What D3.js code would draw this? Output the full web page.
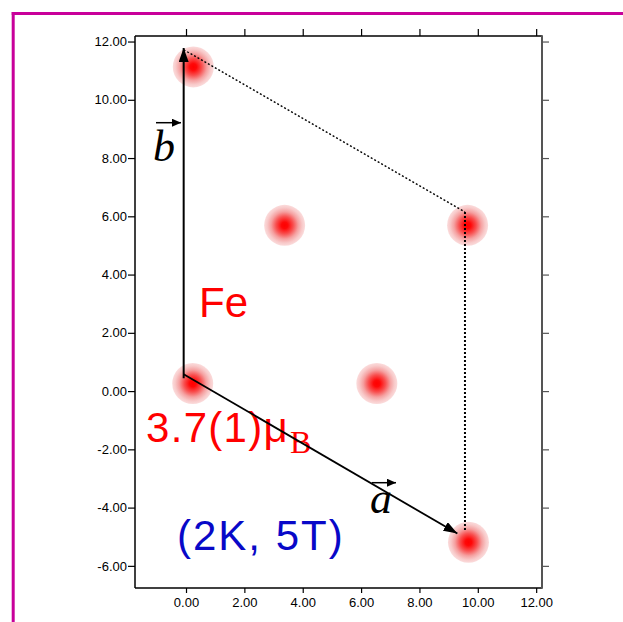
<!DOCTYPE html>
<html><head><meta charset="utf-8">
<script src="https://cdn.jsdelivr.net/npm/d3@7"></script>
<style>body{margin:0;background:#fff}svg{display:block}</style>
</head><body>
<script>
// ---- data ----
const xTicks = [0, 2, 4, 6, 8, 10, 12];
const yTicks = [-6, -4, -2, 0, 2, 4, 6, 8, 10, 12];
const atomX = [0.25, 3.38, 9.65, 0.23, 6.54, 9.68];
const atomY = [11.13, 5.69, 5.69, 0.26, 0.26, -5.19];
const origin = [-0.08, 0.58];
const aTip = [9.30, -4.89];
const bTip = [-0.08, 11.78];
const cellDiagX = [-0.08, 9.56];
const cellDiagY = [11.72, 6.15];
const cellVertX = [9.56, 9.56];
const cellVertY = [6.15, -4.77];
const labelFe = "Fe";
const labelMoment = "3.7(1)μ";
const labelMomentSub = "B";
const labelCond = "(2K, 5T)";

const W = 623, H = 622;
const svg = d3.select("body").append("svg").attr("width", W).attr("height", H);

// magenta border
svg.append("line").attr("x1", 11.7).attr("x2", 623).attr("y1", 13.5).attr("y2", 13.5)
  .attr("stroke", "#c8009a").attr("stroke-width", 3);
svg.append("line").attr("x1", 13.2).attr("x2", 13.2).attr("y1", 12).attr("y2", 622)
  .attr("stroke", "#c8009a").attr("stroke-width", 3);

const L = 135, R = 542, T = 36, B = 588;
const x = d3.scaleLinear().domain([-1.748, 12.2]).range([L, R]);
const y = d3.scaleLinear().domain([-6.76, 12.19]).range([B, T]);

const defs = svg.append("defs");
const grad = defs.append("radialGradient").attr("id", "blob");
[[0, "#ff0000"], [0.16, "#ff0808"], [0.42, "#f85050"], [0.66, "#f5a0a0"], [0.86, "#f8caca"], [1, "#fbdcdc"]]
  .forEach(s => grad.append("stop").attr("offset", s[0]).attr("stop-color", s[1]));

function marker(id, len, wid) {
  defs.append("marker").attr("id", id).attr("viewBox", `0 0 ${len} ${wid}`)
    .attr("refX", len).attr("refY", wid / 2).attr("markerWidth", len).attr("markerHeight", wid)
    .attr("markerUnits", "userSpaceOnUse").attr("orient", "auto")
    .append("path").attr("d", `M0,0L${len},${wid / 2}L0,${wid}Z`).attr("fill", "#000");
}
marker("arr", 14, 10);
marker("arrS", 9, 8);

// atoms
svg.append("g").selectAll("circle").data(atomX).join("circle")
  .attr("cx", (d, i) => x(d)).attr("cy", (d, i) => y(atomY[i])).attr("r", 20.5)
  .attr("fill", "url(#blob)");

// axes
const f2 = d3.format(".2f");
const fmt = v => f2(v).replace("\u2212", "-");
const gl = svg.append("g").attr("transform", `translate(${L},0)`)
  .call(d3.axisLeft(y).tickValues(yTicks).tickFormat(fmt).tickSize(7).tickPadding(1));
const gb = svg.append("g").attr("transform", `translate(0,${B})`)
  .call(d3.axisBottom(x).tickValues(xTicks).tickFormat(fmt).tickSize(5).tickPadding(5));
const gt = svg.append("g").attr("transform", `translate(0,${T})`)
  .call(d3.axisTop(x).tickValues(xTicks).tickFormat("").tickSize(7));
const gr = svg.append("g").attr("transform", `translate(${R},0)`)
  .call(d3.axisRight(y).tickValues(yTicks).tickFormat("").tickSize(7));
[gl, gb, gt, gr].forEach(g => {
  g.select(".domain").remove();
  g.selectAll("text").attr("font-family", "Liberation Sans, Arial, sans-serif").attr("font-size", 13).attr("fill", "#000");
  g.selectAll("line").attr("stroke", "#000").attr("stroke-width", 1.2);
});
gr.selectAll("line").attr("stroke", "#555");
// frame
svg.append("line").attr("x1", L).attr("x2", R).attr("y1", T).attr("y2", T).attr("stroke", "#000").attr("stroke-width", 1.5);
svg.append("line").attr("x1", L).attr("x2", R).attr("y1", B).attr("y2", B).attr("stroke", "#000").attr("stroke-width", 1.5);
svg.append("line").attr("x1", L).attr("x2", L).attr("y1", T).attr("y2", B).attr("stroke", "#000").attr("stroke-width", 1.5);
svg.append("line").attr("x1", R).attr("x2", R).attr("y1", T - 0.75).attr("y2", B + 0.75).attr("stroke", "#555").attr("stroke-width", 2);

// cell dotted lines
svg.append("line").attr("x1", x(cellDiagX[0])).attr("y1", y(cellDiagY[0]))
  .attr("x2", x(cellDiagX[1])).attr("y2", y(cellDiagY[1]))
  .attr("stroke", "#000").attr("stroke-width", 1.3).attr("stroke-dasharray", "2,2");
svg.append("line").attr("x1", x(cellVertX[0])).attr("y1", y(cellVertY[0]))
  .attr("x2", x(cellVertX[1])).attr("y2", y(cellVertY[1]))
  .attr("stroke", "#000").attr("stroke-width", 2).attr("stroke-dasharray", "2,2");

// text labels
const sans = "Liberation Sans, Arial, sans-serif";
const serif = "Liberation Serif, Times New Roman, serif";
svg.append("text").attr("x", 199).attr("y", 317).attr("font-family", sans).attr("font-size", 42)
  .attr("fill", "#ff0000").text(labelFe);
const mt = svg.append("text").attr("x", 146).attr("y", 442).attr("font-family", sans).attr("font-size", 42)
  .attr("fill", "#ff0000");
mt.append("tspan").attr("letter-spacing", 1.3).text(labelMoment);
mt.append("tspan").attr("font-family", serif).attr("font-size", 32).attr("dy", 11).attr("dx", 1).text(labelMomentSub);
svg.append("text").attr("x", 177).attr("y", 550).attr("font-family", sans).attr("font-size", 42)
  .attr("letter-spacing", 2).attr("fill", "#0808c8").text(labelCond);

// vector labels
svg.append("text").attr("x", 153).attr("y", 161).attr("font-family", serif).attr("font-style", "italic")
  .attr("font-size", 44).attr("fill", "#000").text("b");
svg.append("line").attr("x1", 156).attr("x2", 181).attr("y1", 122.7).attr("y2", 122.7)
  .attr("stroke", "#000").attr("stroke-width", 1.5).attr("marker-end", "url(#arrS)");
svg.append("text").attr("x", 370).attr("y", 513).attr("font-family", serif).attr("font-style", "italic")
  .attr("font-size", 44).attr("fill", "#000").text("a");
svg.append("line").attr("x1", 371.7).attr("x2", 396).attr("y1", 482.7).attr("y2", 482.7)
  .attr("stroke", "#000").attr("stroke-width", 1.5).attr("marker-end", "url(#arrS)");

// lattice vectors
svg.append("line").attr("x1", x(origin[0])).attr("y1", y(origin[1]) + 4)
  .attr("x2", x(bTip[0])).attr("y2", y(bTip[1]))
  .attr("stroke", "#000").attr("stroke-width", 2).attr("marker-end", "url(#arr)");
svg.append("line").attr("x1", x(origin[0])).attr("y1", y(origin[1]))
  .attr("x2", x(aTip[0])).attr("y2", y(aTip[1]))
  .attr("stroke", "#000").attr("stroke-width", 1.8).attr("marker-end", "url(#arr)");
</script>
</body></html>
